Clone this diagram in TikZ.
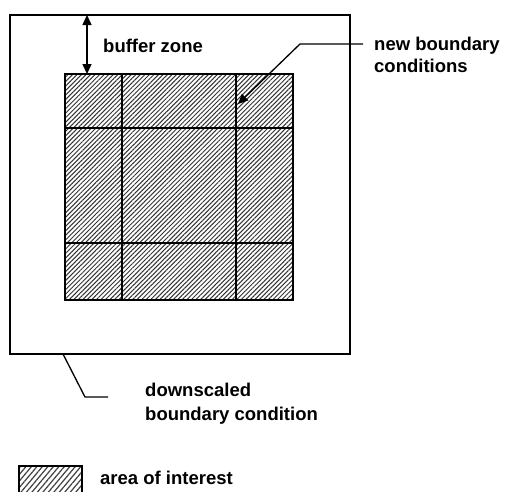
\documentclass[tikz,border=0pt]{standalone}
\usepackage{fontspec}
\setmainfont{Liberation Sans}
\usetikzlibrary{patterns.meta,arrows.meta}
\tikzset{
  lbl/.style={anchor=base west,inner sep=0pt,font=\bfseries\fontsize{18.5}{22}\selectfont},
  hatch/.style={pattern={Lines[angle=45,distance=3.2pt,line width=1pt]},pattern color=black!80},
  thinline/.style={line width=1.3pt},
  tip/.style={-{Triangle[length=10pt,width=9pt]}},
}
\begin{document}
\begin{tikzpicture}[x=1pt,y=-1pt]
\useasboundingbox (0,0) rectangle (512,491);
% outer domain
\draw[line width=1.5pt] (10,15) rectangle (350,354);
% inner hatched area
\fill[white] (65,74) rectangle (293,300);
\path[hatch] (65,74) rectangle (293,300);
\draw[thinline] (122,74) -- (122,300);
\draw[thinline] (236,74) -- (236,300);
\draw[thinline] (65,128) -- (293,128);
\draw[thinline] (65,243) -- (293,243);
\draw[line width=2pt] (65,74) rectangle (293,300);
% buffer zone arrow
\coordinate (btop) at (87,15);
\coordinate (bbot) at (87,74);
\draw[thinline,{Triangle[length=10pt,width=9pt]}-{Triangle[length=10pt,width=9pt]}] (btop) -- (bbot);
\node[lbl] (buf) at (103,52) {buffer zone};
% new boundary conditions
\coordinate (nstart) at (363,44);
\coordinate (nbend) at (300,44);
\coordinate (ntip) at (238,104);
\draw[thinline,tip] (nstart) -- (nbend) -- (ntip);
\node[lbl] (nb1) at (374,50) {new boundary};
\node[lbl] (nb2) at (374,72) {conditions};
% downscaled boundary condition
\coordinate (dstart) at (63,354);
\coordinate (dbend) at (85,397);
\coordinate (dend) at (108,397);
\draw[thinline] (dstart) -- (dbend) -- (dend);
\node[lbl] (ds1) at (145,396) {downscaled};
\node[lbl] (ds2) at (145,420) {boundary condition};
% legend
\fill[white] (19,466) rectangle (82,496);
\path[pattern={Lines[angle=50,distance=4.2pt,line width=1.2pt]},pattern color=black!75] (19,466) rectangle (82,496);
\draw[line width=1.5pt] (19,466) rectangle (82,496);
\node[lbl] (leg) at (100,484) {area of interest};
\end{tikzpicture}
\end{document}
